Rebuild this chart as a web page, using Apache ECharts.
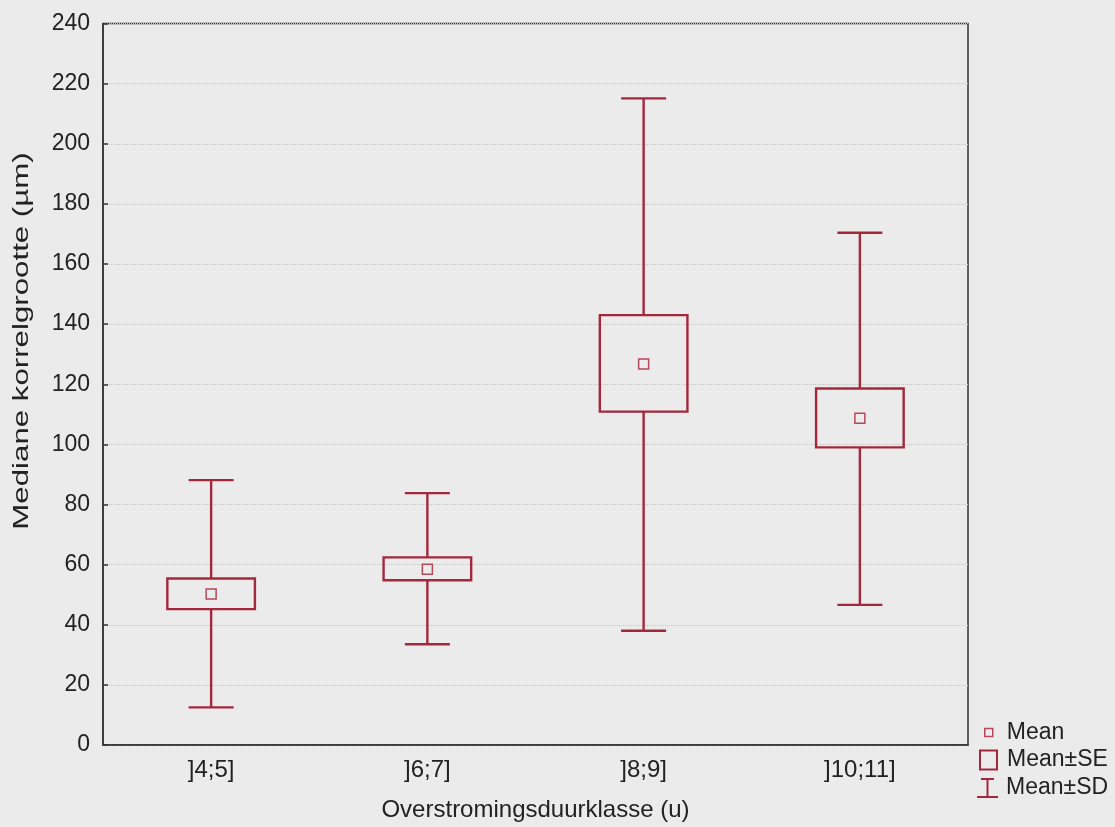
<!DOCTYPE html>
<html>
<head>
<meta charset="utf-8">
<script src="https://cdn.jsdelivr.net/npm/echarts@6/dist/echarts.min.js"></script>
<style>
html,body{margin:0;padding:0;background:#ebebeb;}
#chart{width:1115px;height:827px;}
</style>
</head>
<body>
<div id="chart"></div>
<script>
const categories = [']4;5]', ']6;7]', ']8;9]', ']10;11]'];
const means  = [50.2, 58.5, 126.7, 108.7];
const seLow  = [45.2, 54.8, 110.9, 99.0];
const seHigh = [55.4, 62.4, 143.0, 118.6];
const sdLow  = [12.5, 33.5, 38.0, 46.6];
const sdHigh = [88.1, 83.8, 215.1, 170.4];
const yTicks = [0, 20, 40, 60, 80, 100, 120, 140, 160, 180, 200, 220, 240];
const xTitle = 'Overstromingsduurklasse (u)';
const yTitle = 'Mediane korrelgrootte (µm)';

const RED = '#a3283c';
const RED_MEAN = '#b5485a';
const FONT = '"Liberation Sans", Arial, sans-serif';
const TXT = '#222';

const sdData = categories.map((c, i) => [i, sdLow[i], seLow[i], seHigh[i], sdHigh[i]]);
const seData = categories.map((c, i) => [i, seLow[i], seHigh[i]]);
const meanData = categories.map((c, i) => [i, means[i]]);

const chart = echarts.init(document.getElementById('chart'));
chart.setOption({
  backgroundColor: '#ebebeb',
  animation: false,
  grid: {left: 103, right: 147, top: 23.5, bottom: 77, show: true, borderColor: '#333', borderWidth: 1.5, backgroundColor: 'transparent'},
  graphic: [
    {
      type: 'text',
      x: 22, y: 341,
      rotation: Math.PI / 2,
      scaleX: 1.42,
      style: {text: yTitle, fontFamily: FONT, fontSize: 22, fill: TXT, align: 'center', verticalAlign: 'middle'}
    }
  ],
  xAxis: {
    type: 'category',
    data: categories,
    boundaryGap: true,
    name: xTitle,
    nameLocation: 'middle',
    nameGap: 53,
    nameTextStyle: {fontFamily: FONT, fontSize: 24, color: TXT},
    axisLine: {lineStyle: {color: '#333', width: 1.5}},
    axisTick: {inside: true, alignWithLabel: true, length: 6, lineStyle: {color: '#333', width: 1.5}},
    axisLabel: {fontFamily: FONT, fontSize: 24, color: TXT, margin: 13},
    splitLine: {show: false}
  },
  yAxis: {
    type: 'value',
    min: yTicks[0],
    max: yTicks[yTicks.length - 1],
    interval: 20,
    axisLine: {show: true, lineStyle: {color: '#333', width: 1.5}},
    axisTick: {show: true, inside: true, length: 5, lineStyle: {color: '#333', width: 1.5}},
    axisLabel: {fontFamily: FONT, fontSize: 23, color: TXT, margin: 13},
    splitLine: {show: true, lineStyle: {color: '#c4c4c4', type: 'dotted', width: 1}}
  },
  legend: [
    {
      orient: 'vertical', left: 984, top: 721, padding: 0,
      itemWidth: 8, itemHeight: 8,
      textStyle: {fontFamily: FONT, fontSize: 23, color: TXT, padding: [0, 0, 0, 9]},
      data: [{name: 'Mean', icon: 'rect', itemStyle: {color: 'transparent', borderColor: RED_MEAN, borderWidth: 1.5}}]
    },
    {
      orient: 'vertical', left: 979, top: 748.5, padding: 0,
      itemWidth: 17, itemHeight: 19,
      textStyle: {fontFamily: FONT, fontSize: 23, color: TXT, padding: [0, 0, 0, 5]},
      data: [{name: 'Mean±SE', icon: 'rect', itemStyle: {color: 'transparent', borderColor: RED, borderWidth: 2}}]
    },
    {
      orient: 'vertical', left: 977, top: 776.5, padding: 0,
      itemWidth: 21, itemHeight: 20,
      symbolKeepAspect: false,
      textStyle: {fontFamily: FONT, fontSize: 23, color: TXT, padding: [0, 0, 0, 3]},
      data: [{name: 'Mean±SD', icon: 'path://M4,0H17V2H11.5V18H21V20H0V18H9.5V2H4Z', itemStyle: {color: RED, borderWidth: 0}}]
    }
  ],
  series: [
    {
      name: 'Mean±SD',
      type: 'custom',
      data: sdData,
      encode: {x: 0, y: [1, 2, 3, 4]},
      renderItem: function (params, api) {
        const i = api.value(0);
        const band = api.size([1, 0])[0];
        const cap = band * 0.208 / 2;
        const pLow = api.coord([i, api.value(1)]);
        const pSeL = api.coord([i, api.value(2)]);
        const pSeH = api.coord([i, api.value(3)]);
        const pHigh = api.coord([i, api.value(4)]);
        const x = pLow[0];
        const style = {stroke: RED, lineWidth: 2.4, fill: null};
        return {
          type: 'group',
          children: [
            {type: 'line', shape: {x1: x, y1: pLow[1], x2: x, y2: pSeL[1]}, style: style},
            {type: 'line', shape: {x1: x, y1: pSeH[1], x2: x, y2: pHigh[1]}, style: style},
            {type: 'line', shape: {x1: x - cap, y1: pLow[1], x2: x + cap, y2: pLow[1]}, style: style},
            {type: 'line', shape: {x1: x - cap, y1: pHigh[1], x2: x + cap, y2: pHigh[1]}, style: style}
          ]
        };
      },
      z: 2
    },
    {
      name: 'Mean±SE',
      type: 'custom',
      data: seData,
      encode: {x: 0, y: [1, 2]},
      renderItem: function (params, api) {
        const i = api.value(0);
        const band = api.size([1, 0])[0];
        const half = band * 0.405 / 2;
        const pL = api.coord([i, api.value(1)]);
        const pH = api.coord([i, api.value(2)]);
        return {
          type: 'rect',
          shape: {x: pL[0] - half, y: pH[1], width: half * 2, height: pL[1] - pH[1]},
          style: {stroke: RED, lineWidth: 2.4, fill: 'transparent'}
        };
      },
      z: 3
    },
    {
      name: 'Mean',
      type: 'scatter',
      data: meanData,
      symbol: 'rect',
      symbolSize: 10,
      itemStyle: {color: 'transparent', borderColor: RED_MEAN, borderWidth: 1.5, opacity: 1},
      z: 4
    }
  ]
});
</script>
</body>
</html>
